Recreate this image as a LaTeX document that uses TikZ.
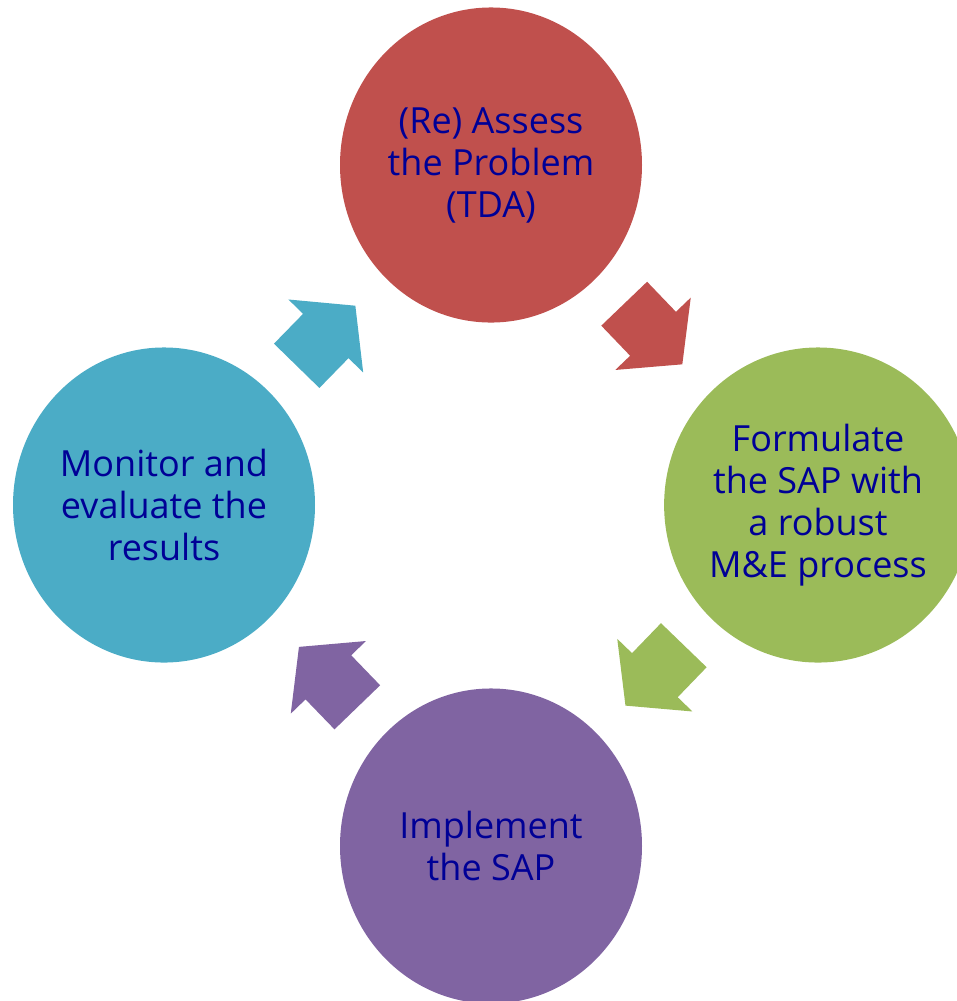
\documentclass[tikz,border=0pt]{standalone}
\usepackage{fontspec}
\setmainfont{Open Sans}
\usepackage{tikz}
\usetikzlibrary{shapes.geometric}
\usetikzlibrary{shapes.arrows}
\usetikzlibrary{positioning}
\definecolor{stepred}{RGB}{192,80,77}
\definecolor{stepgreen}{RGB}{155,187,89}
\definecolor{steppurple}{RGB}{128,100,162}
\definecolor{stepblue}{RGB}{75,172,198}
\definecolor{labelblue}{RGB}{0,0,150}
\tikzstyle{every node}+=[inner sep=0pt]
\tikzstyle{stage} = [ellipse, minimum width=226.5pt, minimum height=236.3pt, text=labelblue, align=center, font=\fontsize{27}{31.5}\selectfont]
\tikzstyle{turn} = [single arrow, anchor=tail, inner xsep=0pt, inner ysep=23.6pt, minimum height=63pt, minimum width=78pt, single arrow head extend=15.4pt, single arrow tip angle=102]

\begin{document}
\begin{tikzpicture}[x=0.75pt, y=-0.75pt]
            \useasboundingbox (0,0) rectangle (957,1001);
            \clip (0,0) rectangle (957,1001);
            % Place nodes
            \node [stage, fill=stepred] (assess) at (491,165) {(Re) Assess\\the Problem\\(TDA)};
            \node [stage, fill=stepgreen] (formulate) at (818,505) {Formulate\\the SAP with\\a robust\\M\&E process};
            \node [stage, fill=steppurple] (implement) at (491,846) {Implement\\the SAP};
            \node [stage, fill=stepblue] (monitor) at (164,505) {Monitor and\\evaluate the\\results};
            % Draw arrows
            \node [turn, fill=stepred, rotate=-46.2] (a1) at (624,303.5) {};
            \node [turn, fill=stepgreen, rotate=-134] (a2) at (684,645) {};
            \node [turn, fill=steppurple, rotate=134] (a3) at (357.5,707.5) {};
            \node [turn, fill=stepblue, rotate=45.7] (a4) at (296.5,366) {};
          \end{tikzpicture}
\end{document}
